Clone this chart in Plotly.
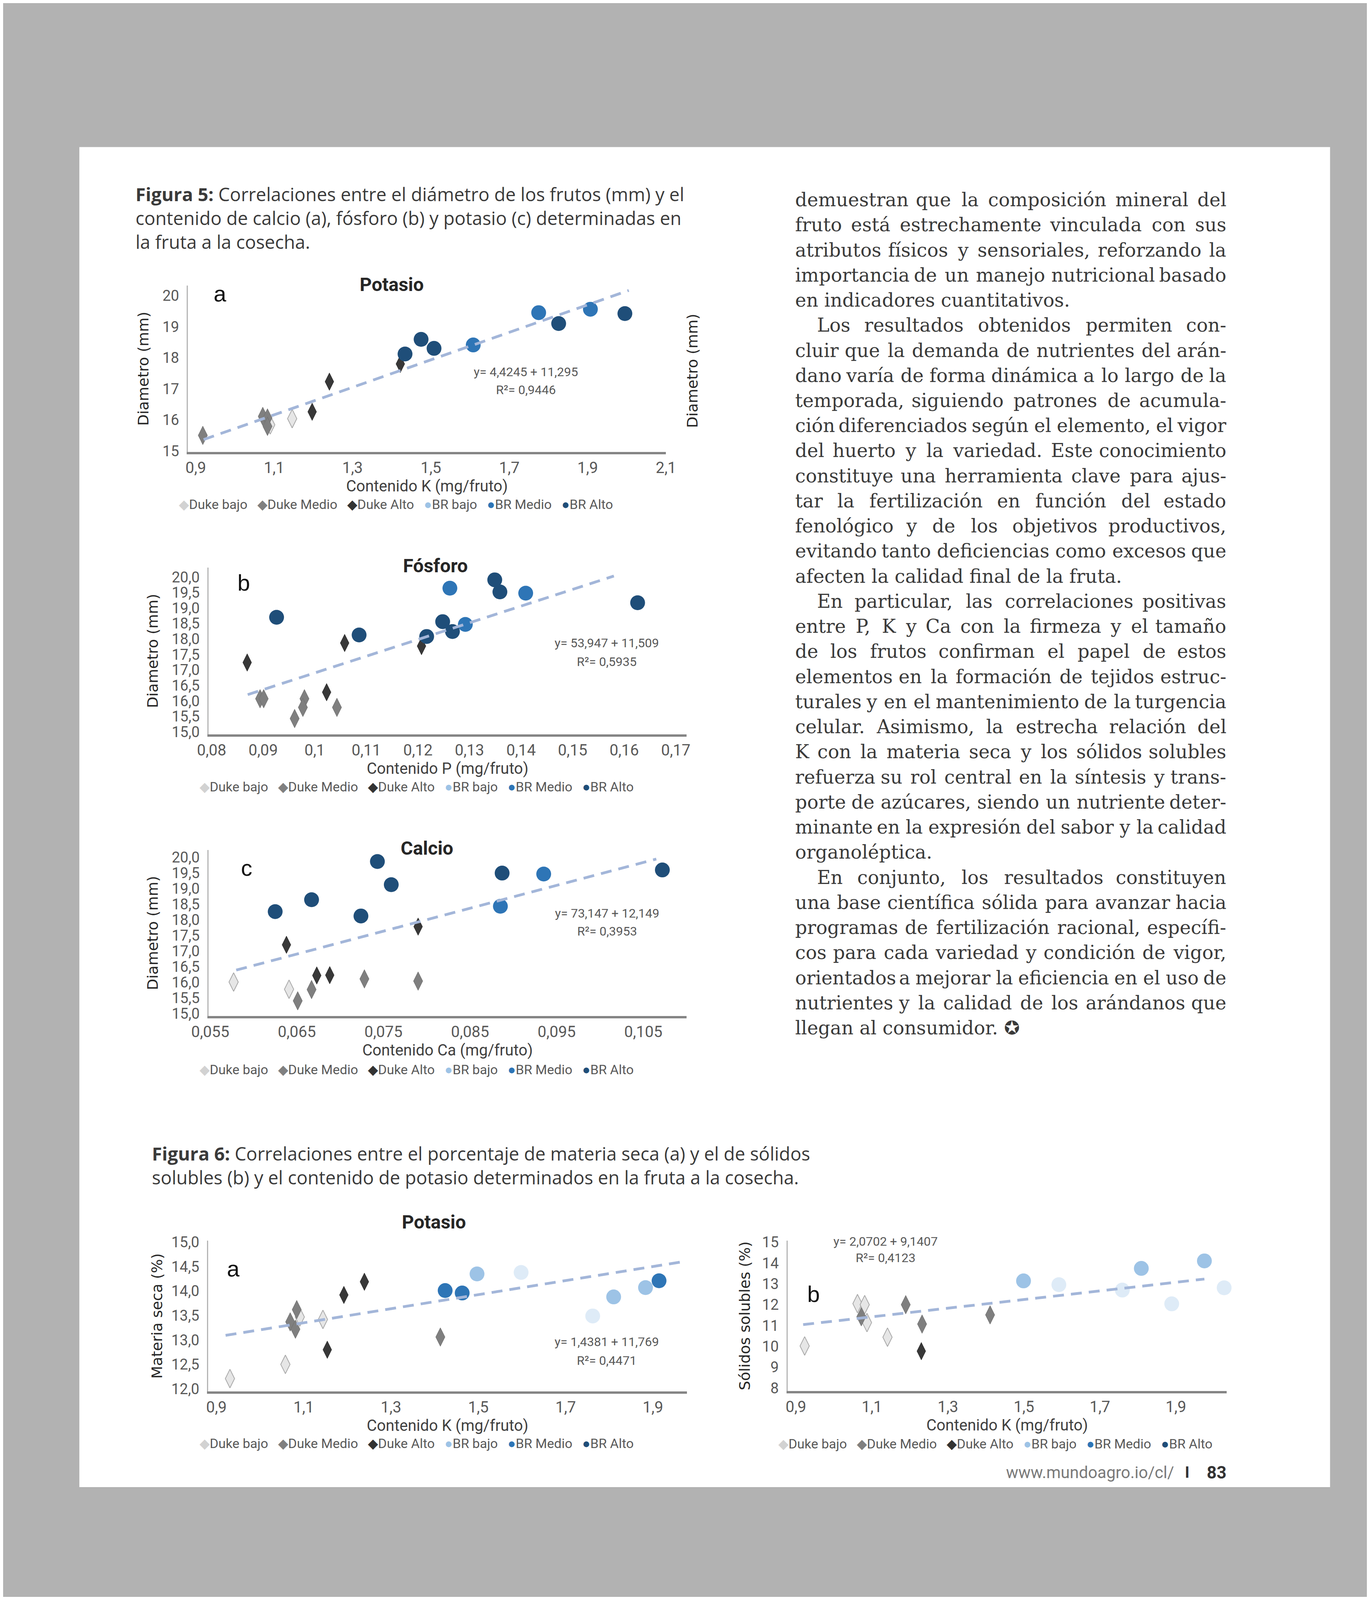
import unicodedata
import plotly.graph_objects as go

W, H = 3508, 4958


def px(v):
    return v / W


def py(v):
    return 1 - v / H


SERIES = ["Duke bajo", "Duke Medio", "Duke Alto", "BR bajo", "BR Medio", "BR Alto"]
EXTRA = "BR bajo claro"

# ---------------- Figura 5a : Potasio vs diametro ----------------
f5a_x = [1.146, 1.090, 0.918, 1.071, 1.083, 1.083, 1.197, 1.241, 1.422,
         1.775, 1.907, 1.608, 1.475, 1.434, 1.508, 1.826, 1.995]
f5a_y = [16.04, 15.84, 15.50, 16.11, 16.06, 15.79, 16.26, 17.23, 17.80,
         19.45, 19.56, 18.41, 18.59, 18.12, 18.30, 19.10, 19.42]
f5a_g = ["Duke bajo", "Duke bajo", "Duke Medio", "Duke Medio", "Duke Medio", "Duke Medio",
         "Duke Alto", "Duke Alto", "Duke Alto", "BR Medio", "BR Medio", "BR Medio",
         "BR Alto", "BR Alto", "BR Alto", "BR Alto", "BR Alto"]
f5a_trend = [4.4245, 11.295]
f5a_span = [0.92, 2.005]
f5a_eq = "y= 4,4245 + 11,295"
f5a_r2 = "R²= 0,9446"
f5a_xticks = [0.9, 1.1, 1.3, 1.5, 1.7, 1.9, 2.1]
f5a_xlabels = ["0,9", "1,1", "1,3", "1,5", "1,7", "1,9", "2,1"]
f5a_yticks = [15, 16, 17, 18, 19, 20]
f5a_ylabels = ["15", "16", "17", "18", "19", "20"]

# ---------------- Figura 5b : Fosforo ----------------
f5b_x = [0.0894, 0.0901, 0.0980, 0.0977, 0.0961, 0.1043, 0.0869, 0.1058, 0.1207, 0.1023,
         0.1262, 0.1292, 0.1409, 0.0926, 0.1086, 0.1217, 0.1248, 0.1267, 0.1349, 0.1359, 0.1626]
f5b_y = [16.07, 16.07, 16.07, 15.79, 15.43, 15.79, 17.24, 17.87, 17.77, 16.28,
         19.64, 18.47, 19.48, 18.70, 18.13, 18.08, 18.56, 18.24, 19.91, 19.52, 19.17]
f5b_g = ["Duke Medio", "Duke Medio", "Duke Medio", "Duke Medio", "Duke Medio", "Duke Medio",
         "Duke Alto", "Duke Alto", "Duke Alto", "Duke Alto",
         "BR Medio", "BR Medio", "BR Medio",
         "BR Alto", "BR Alto", "BR Alto", "BR Alto", "BR Alto", "BR Alto", "BR Alto", "BR Alto"]
f5b_trend = [53.947, 11.509]
f5b_span = [0.087, 0.158]
f5b_eq = "y= 53,947 + 11,509"
f5b_r2 = "R²= 0,5935"
f5b_xticks = [0.08, 0.09, 0.10, 0.11, 0.12, 0.13, 0.14, 0.15, 0.16, 0.17]
f5b_xlabels = ["0,08", "0,09", "0,1", "0,11", "0,12", "0,13", "0,14", "0,15", "0,16", "0,17"]
f5b_yticks = [15.0, 15.5, 16.0, 16.5, 17.0, 17.5, 18.0, 18.5, 19.0, 19.5, 20.0]
f5b_ylabels = ["15,0", "15,5", "16,0", "16,5", "17,0", "17,5", "18,0", "18,5", "19,0", "19,5", "20,0"]

# ---------------- Figura 5c : Calcio ----------------
f5c_x = [0.0577, 0.0641, 0.0651, 0.0667, 0.0728, 0.0790, 0.0638, 0.0673, 0.0688, 0.0790,
         0.0885, 0.0935, 0.0625, 0.0667, 0.0724, 0.0743, 0.0759, 0.0887, 0.1072]
f5c_y = [16.01, 15.78, 15.41, 15.77, 16.11, 16.04, 17.20, 16.22, 16.23, 17.78,
         18.43, 19.46, 18.26, 18.64, 18.12, 19.86, 19.12, 19.49, 19.59]
f5c_g = ["Duke bajo", "Duke bajo", "Duke Medio", "Duke Medio", "Duke Medio", "Duke Medio",
         "Duke Alto", "Duke Alto", "Duke Alto", "Duke Alto", "BR Medio", "BR Medio",
         "BR Alto", "BR Alto", "BR Alto", "BR Alto", "BR Alto", "BR Alto", "BR Alto"]
f5c_trend = [73.147, 12.149]
f5c_span = [0.058, 0.1065]
f5c_eq = "y= 73,147 + 12,149"
f5c_r2 = "R²= 0,3953"
f5c_xticks = [0.055, 0.065, 0.075, 0.085, 0.095, 0.105]
f5c_xlabels = ["0,055", "0,065", "0,075", "0,085", "0,095", "0,105"]
f5c_yticks = f5b_yticks
f5c_ylabels = f5b_ylabels

# ---------------- Figura 6a : Materia seca ----------------
f6a_x = [0.931, 1.058, 1.091, 1.144, 1.069, 1.084, 1.081, 1.413, 1.192, 1.239, 1.154,
         1.497, 1.810, 1.883, 1.598, 1.762, 1.424, 1.463, 1.914]
f6a_y = [12.21, 12.50, 13.47, 13.42, 13.37, 13.62, 13.22, 13.06, 13.92, 14.19, 12.80,
         14.35, 13.88, 14.07, 14.38, 13.49, 14.01, 13.96, 14.21]
f6a_g = ["Duke bajo", "Duke bajo", "Duke bajo", "Duke bajo",
         "Duke Medio", "Duke Medio", "Duke Medio", "Duke Medio",
         "Duke Alto", "Duke Alto", "Duke Alto",
         "BR bajo", "BR bajo", "BR bajo", EXTRA, EXTRA,
         "BR Medio", "BR Medio", "BR Medio"]
f6a_trend = [1.4381, 11.769]
f6a_span = [0.921, 1.975]
f6a_eq = "y= 1,4381 + 11,769"
f6a_r2 = "R²= 0,4471"
f6a_xticks = [0.9, 1.1, 1.3, 1.5, 1.7, 1.9]
f6a_xlabels = ["0,9", "1,1", "1,3", "1,5", "1,7", "1,9"]
f6a_yticks = [12.0, 12.5, 13.0, 13.5, 14.0, 14.5, 15.0]
f6a_ylabels = ["12,0", "12,5", "13,0", "13,5", "14,0", "14,5", "15,0"]

# ---------------- Figura 6b : Solidos solubles ----------------
f6b_x = [0.923, 1.062, 1.081, 1.087, 1.141, 1.072, 1.189, 1.232, 1.411, 1.230,
         1.499, 1.809, 1.975, 1.592, 1.759, 1.889, 2.027]
f6b_y = [10.02, 12.05, 12.00, 11.14, 10.44, 11.42, 12.00, 11.07, 11.51, 9.77,
         13.14, 13.74, 14.10, 12.96, 12.70, 12.04, 12.81]
f6b_g = ["Duke bajo", "Duke bajo", "Duke bajo", "Duke bajo", "Duke bajo",
         "Duke Medio", "Duke Medio", "Duke Medio", "Duke Medio", "Duke Alto",
         "BR bajo", "BR bajo", "BR bajo", EXTRA, EXTRA, EXTRA, EXTRA]
f6b_trend = [2.0702, 9.1407]
f6b_span = [0.919, 1.975]
f6b_eq = "y= 2,0702 + 9,1407"
f6b_r2 = "R²= 0,4123"
f6b_xticks = [0.9, 1.1, 1.3, 1.5, 1.7, 1.9]
f6b_xlabels = ["0,9", "1,1", "1,3", "1,5", "1,7", "1,9"]
f6b_yticks = [8, 9, 10, 11, 12, 13, 14, 15]
f6b_ylabels = ["8", "9", "10", "11", "12", "13", "14", "15"]

# ---------------- texts ----------------
CAPTION5 = ["<b>Figura 5:</b> Correlaciones entre el diámetro de los frutos (mm) y el",
            "contenido de calcio (a), fósforo (b) y potasio (c) determinadas en",
            "la fruta a la cosecha."]
CAPTION6 = ["<b>Figura 6:</b> Correlaciones entre el porcentaje de materia seca (a) y el de sólidos",
            "solubles (b) y el contenido de potasio determinados en la fruta a la cosecha."]

PARAGRAPHS = [
    (False, ["demuestran que la composición mineral del",
             "fruto está estrechamente vinculada con sus",
             "atributos físicos y sensoriales, reforzando la",
             "importancia de un manejo nutricional basado",
             "en indicadores cuantitativos."]),
    (True, ["Los resultados obtenidos permiten con-",
            "cluir que la demanda de nutrientes del arán-",
            "dano varía de forma dinámica a lo largo de la",
            "temporada, siguiendo patrones de acumula-",
            "ción diferenciados según el elemento, el vigor",
            "del huerto y la variedad. Este conocimiento",
            "constituye una herramienta clave para ajus-",
            "tar la fertilización en función del estado",
            "fenológico y de los objetivos productivos,",
            "evitando tanto deficiencias como excesos que",
            "afecten la calidad final de la fruta."]),
    (True, ["En particular, las correlaciones positivas",
            "entre P, K y Ca con la firmeza y el tamaño",
            "de los frutos confirman el papel de estos",
            "elementos en la formación de tejidos estruc-",
            "turales y en el mantenimiento de la turgencia",
            "celular. Asimismo, la estrecha relación del",
            "K con la materia seca y los sólidos solubles",
            "refuerza su rol central en la síntesis y trans-",
            "porte de azúcares, siendo un nutriente deter-",
            "minante en la expresión del sabor y la calidad",
            "organoléptica."]),
    (True, ["En conjunto, los resultados constituyen",
            "una base científica sólida para avanzar hacia",
            "programas de fertilización racional, específi-",
            "cos para cada variedad y condición de vigor,",
            "orientados a mejorar la eficiencia en el uso de",
            "nutrientes y la calidad de los arándanos que",
            "llegan al consumidor. ✪"]),
]

FOOTER_URL = "www.mundoagro.io/cl/"
FOOTER_PAGE = "83"

# ---------------- styles ----------------
STYLE = {
    "Duke bajo": dict(symbol="diamond-tall", size=34, color="#e6e6e6", line=dict(color="#a9a9a9", width=2)),
    "Duke Medio": dict(symbol="diamond-tall", size=34, color="#7f7f7f", line=dict(color="#6e6e6e", width=1)),
    "Duke Alto": dict(symbol="diamond-tall", size=32, color="#383838", line=dict(color="#2a2a2a", width=1)),
    "BR bajo": dict(symbol="circle", size=38, color="#9dc3e6", line=dict(color="#9dc3e6", width=0)),
    "BR Medio": dict(symbol="circle", size=38, color="#2e75b6", line=dict(color="#2e75b6", width=0)),
    "BR Alto": dict(symbol="circle", size=38, color="#1f4e79", line=dict(color="#1f4e79", width=0)),
    EXTRA: dict(symbol="circle", size=38, color="#deebf7", line=dict(color="#deebf7", width=0)),
}
LEGEND_GLYPH = {"Duke bajo": ("◆", "#d2d2d2"), "Duke Medio": ("◆", "#808080"),
                "Duke Alto": ("◆", "#333333"), "BR bajo": ("●", "#9dc3e6"),
                "BR Medio": ("●", "#2e75b6"), "BR Alto": ("●", "#1f4e79")}
TREND_COLOR = "#a3b6d9"
SANS = "Roboto"
TICK_COLOR = "#595959"

charts = [
    dict(x=f5a_x, y=f5a_y, g=f5a_g, trend=f5a_trend, span=f5a_span, eq=f5a_eq, r2=f5a_r2,
         xt=f5a_xticks, xl=f5a_xlabels, yt=f5a_yticks, yl=f5a_ylabels,
         box=(440, 1695, 865, 1387), xr=[0.88, 2.1], yr=[14.97, 20.32],
         eqpos=(1.742, 17.55), r2pos=(1.742, 16.96), letter="a", letterpos=(0.962, 20.07),
         title="Potasio", titlepos=(975, 862), ytitle="Diametro (mm)", ystand=24,
         xtitle="Contenido K (mg/fruto)", legendpos=(986, 1552)),
    dict(x=f5b_x, y=f5b_y, g=f5b_g, trend=f5b_trend, span=f5b_span, eq=f5b_eq, r2=f5b_r2,
         xt=f5b_xticks, xl=f5b_xlabels, yt=f5b_yticks, yl=f5b_ylabels,
         box=(494, 1749, 1750, 2274), xr=[0.0794, 0.1721], yr=[14.92, 20.31],
         eqpos=(0.1566, 17.87), r2pos=(0.1566, 17.26), letter="b", letterpos=(0.0862, 19.82),
         title="Fósforo", titlepos=(1090, 1745), ytitle="Diametro (mm)", ystand=24,
         xtitle="Contenido P (mg/fruto)", legendpos=(1041, 2439)),
    dict(x=f5c_x, y=f5c_y, g=f5c_g, trend=f5c_trend, span=f5c_span, eq=f5c_eq, r2=f5c_r2,
         xt=f5c_xticks, xl=f5c_xlabels, yt=f5c_yticks, yl=f5c_ylabels,
         box=(494, 1749, 2637, 3159), xr=[0.0548, 0.1100], yr=[14.92, 20.23],
         eqpos=(0.1008, 18.21), r2pos=(0.1008, 17.63), letter="c", letterpos=(0.0592, 19.66),
         title="Calcio", titlepos=(1068, 2632), ytitle="Diametro (mm)", ystand=24,
         xtitle="Contenido Ca (mg/fruto)", legendpos=(1041, 3327)),
    dict(x=f6a_x, y=f6a_y, g=f6a_g, trend=f6a_trend, span=f6a_span, eq=f6a_eq, r2=f6a_r2,
         xt=f6a_xticks, xl=f6a_xlabels, yt=f6a_yticks, yl=f6a_ylabels,
         box=(493, 1750, 3864, 4337), xr=[0.881, 1.978], yr=[11.95, 15.03],
         eqpos=(1.794, 12.96), r2pos=(1.794, 12.58), letter="a", letterpos=(0.939, 14.46),
         title="Potasio", titlepos=(1086, 3806), ytitle="Materia seca (%)", ystand=12,
         xtitle="Contenido K (mg/fruto)", legendpos=(1041, 4501)),
    dict(x=f6b_x, y=f6b_y, g=f6b_g, trend=f6b_trend, span=f6b_span, eq=f6b_eq, r2=f6b_r2,
         xt=f6b_xticks, xl=f6b_xlabels, yt=f6b_yticks, yl=f6b_ylabels,
         box=(2014, 3167, 3864, 4336), xr=[0.878, 2.034], yr=[7.86, 15.07],
         eqpos=(1.136, 15.03), r2pos=(1.136, 14.24), letter="b", letterpos=(0.946, 12.51),
         title=None, titlepos=None, ytitle="Sólidos solubles (%)", ystand=20,
         xtitle="Contenido K (mg/fruto)", legendpos=(2560, 4502)),
]

fig = go.Figure()
layout = dict(autosize=True, margin=dict(l=0, r=0, t=0, b=0),
              paper_bgcolor="#b2b2b2", plot_bgcolor="rgba(0,0,0,0)",
              showlegend=False, hovermode=False)
annotations = []


def ann(text, x, y, size, color="#333333", family=SANS, xanchor="center", yanchor="middle",
        angle=0, xref="paper", yref="paper", align="center"):
    annotations.append(dict(text=text, x=x, y=y, xref=xref, yref=yref, showarrow=False,
                            xanchor=xanchor, yanchor=yanchor, textangle=angle, align=align,
                            font=dict(family=family, size=size, color=color)))


NB = "\u00a0"
for i, c in enumerate(charts):
    n = i + 1
    sfx = "" if n == 1 else str(n)
    xref, yref = "x" + sfx, "y" + sfx
    for s in SERIES + [EXTRA]:
        xs = [xv for xv, gv in zip(c["x"], c["g"]) if gv == s]
        ys = [yv for yv, gv in zip(c["y"], c["g"]) if gv == s]
        if not xs:
            continue
        st = STYLE[s]
        fig.add_trace(go.Scatter(
            x=xs, y=ys, mode="markers", name=s, xaxis=xref, yaxis=yref,
            showlegend=False, cliponaxis=False,
            marker=dict(symbol=st["symbol"], size=st["size"], color=st["color"], line=st["line"])))
    a, b = c["trend"]
    lo, hi = c["span"]
    fig.add_trace(go.Scatter(x=[lo, hi], y=[a * lo + b, a * hi + b], mode="lines", name="Lineal",
                             xaxis=xref, yaxis=yref, showlegend=False, cliponaxis=False,
                             line=dict(color=TREND_COLOR, width=7, dash="28px,18px")))
    x0, x1, ytop, ybot = c["box"]
    layout["xaxis" + sfx] = dict(domain=[px(x0), px(x1)], range=c["xr"], anchor=yref,
                                 tickvals=c["xt"], ticktext=c["xl"], showgrid=False, zeroline=False,
                                 showline=True, linecolor="#858585", linewidth=6, ticks="",
                                 ticklabelstandoff=0, fixedrange=True, automargin=True,
                                 tickfont=dict(family=SANS, size=40, color=TICK_COLOR),
                                 title=dict(text=c["xtitle"], standoff=8,
                                            font=dict(family=SANS, size=40, color="#404040")))
    layout["yaxis" + sfx] = dict(domain=[py(ybot), py(ytop)], range=c["yr"], anchor=xref,
                                 tickvals=c["yt"], ticktext=c["yl"], showgrid=False, zeroline=False,
                                 showline=True, linecolor="#b5b5b5", linewidth=3, ticks="",
                                 ticklabelstandoff=12, fixedrange=True, automargin=True,
                                 tickfont=dict(family=SANS, size=38, color=TICK_COLOR),
                                 title=dict(text=c["ytitle"], standoff=c["ystand"],
                                            font=dict(family="DejaVu Sans", size=38, color="#262626")))
    # legend row drawn as text
    parts = []
    for s in SERIES:
        glyph, col = LEGEND_GLYPH[s]
        parts.append('<span style="color:%s">%s</span>%s' % (col, glyph, s))
    lx, ly = c["legendpos"]
    ann((NB * 3).join(parts), px(lx), py(ly), 34, TICK_COLOR)
    ann(c["eq"], c["eqpos"][0], c["eqpos"][1], 32, "#595959", xref=xref, yref=yref)
    ann(c["r2"], c["r2pos"][0], c["r2pos"][1], 32, "#595959", xref=xref, yref=yref)
    ann(c["letter"], c["letterpos"][0], c["letterpos"][1], 58, "#111111",
        family="Liberation Sans", xref=xref, yref=yref)
    if c["title"]:
        ann("<b>" + c["title"] + "</b>", px(c["titlepos"][0]), py(c["titlepos"][1]), 48, "#262626")

# stray secondary axis title on the first chart
ann("Diametro (mm)", px(1764), py(1133), 38, "#262626", family="DejaVu Sans", angle=-90)

# captions (one block each)
ann("<br>".join(CAPTION5), px(300), py(652), 47, "#3a3a3a", family="Open Sans",
    xanchor="left", align="left")
ann("<br>".join(CAPTION6), px(343), py(3628), 47, "#3a3a3a", family="Open Sans",
    xanchor="left", align="left")

# body text (justified column)
SERIF = "DejaVu Serif"
BODY_SIZE = 48
SERIF_W = {' ': 0.318, 'a': 0.596, 'b': 0.640, 'c': 0.560, 'd': 0.640, 'e': 0.592, 'f': 0.370,
           'g': 0.640, 'h': 0.644, 'i': 0.320, 'j': 0.310, 'k': 0.606, 'l': 0.320, 'm': 0.948,
           'n': 0.644, 'o': 0.602, 'p': 0.640, 'q': 0.640, 'r': 0.478, 's': 0.513, 't': 0.402,
           'u': 0.644, 'v': 0.565, 'w': 0.856, 'x': 0.564, 'y': 0.565, 'z': 0.523, ',': 0.318,
           '.': 0.318, '-': 0.338, 'E': 0.715, 'L': 0.653, 'K': 0.727, 'P': 0.683, 'C': 0.734,
           'A': 0.722}


def word_width(w):
    tot = 0.0
    for ch in w:
        base = unicodedata.normalize("NFD", ch)[0]
        tot += SERIF_W.get(base, 0.62)
    return tot * BODY_SIZE


COL_L, COL_R, INDENT = 2032, 3168, 57
LINE0, PITCH = 595, 78.8
row = 0
for indent_first, lines in PARAGRAPHS:
    for li, line in enumerate(lines):
        yy = py(LINE0 + row * PITCH)
        left = COL_L + (INDENT if (indent_first and li == 0) else 0)
        last = li == len(lines) - 1
        if last:
            ann(line, px(left), yy, BODY_SIZE, "#3a3a3a", family=SERIF, xanchor="left")
        else:
            words = line.split(" ")
            widths = [word_width(w) for w in words]
            gap = (COL_R - left - sum(widths)) / (len(words) - 1)
            gap = max(gap, 0.12 * BODY_SIZE)
            pos = left
            for wi, (w, ww) in enumerate(zip(words, widths)):
                if wi == 0:
                    ann(w, px(pos), yy, BODY_SIZE, "#3a3a3a", family=SERIF, xanchor="left")
                elif wi == len(words) - 1:
                    ann(w, px(COL_R), yy, BODY_SIZE, "#3a3a3a", family=SERIF, xanchor="right")
                else:
                    ann(w, px(pos + ww / 2), yy, BODY_SIZE, "#3a3a3a", family=SERIF)
                pos += ww + gap
        row += 1

# footer
ann(FOOTER_URL, px(3030), py(4592), 42, "#7a7a7a", xanchor="right")
ann("<b>I</b>", px(3063), py(4592), 40, "#333333")
ann("<b>" + FOOTER_PAGE + "</b>", px(3112), py(4592), 44, "#333333", xanchor="left")

layout["annotations"] = annotations
layout["shapes"] = [dict(type="rect", xref="paper", yref="paper", x0=px(155), x1=px(3438),
                         y0=py(4638), y1=py(430), fillcolor="white", line=dict(width=0),
                         layer="below")]
fig.update_layout(**layout)
fig.write_html("out.html", default_width="100%", default_height="calc(100vh - 16px)")
